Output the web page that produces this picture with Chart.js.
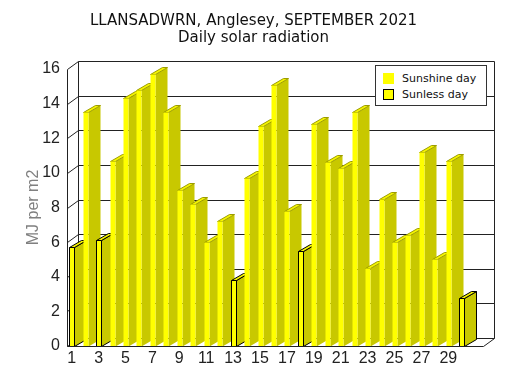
<!DOCTYPE html>
<html>
<head>
<meta charset="utf-8">
<script src="https://cdn.jsdelivr.net/npm/chart.js@4/dist/chart.umd.min.js"></script>
<style>
  body { margin: 0; background: #fff; }
  #wrap { position: relative; width: 507px; height: 378px; }
  #legend {
    position: absolute; left: 375px; top: 65px; width: 110px; height: 39px;
    border: 1px solid #333; background: #fff;
    font: 11px "DejaVu Sans", sans-serif; color: #111;
  }
  #legend div { position: absolute; left: 7px; height: 11px; line-height: 11px; white-space: nowrap; }
  #legend span {
    display: inline-block; width: 11px; height: 11px; vertical-align: top;
    margin-right: 8px; background: #ffff00; box-sizing: border-box;
  }
</style>
</head>
<body>
<div id="wrap">
  <canvas id="solar" width="507" height="378"></canvas>
  <div id="legend">
    <div style="top:7px"><span></span>Sunshine day</div>
    <div style="top:23px"><span style="border:1.5px solid #000"></span>Sunless day</div>
  </div>
</div>
<script>
const days = [1, 2, 3, 4, 5, 6, 7, 8, 9, 10, 11, 12, 13, 14, 15,
              16, 17, 18, 19, 20, 21, 22, 23, 24, 25, 26, 27, 28, 29, 30];
const radiation = [5.7, 13.5, 6.1, 10.7, 14.3, 14.8, 15.7, 13.5, 9.0, 8.2, 6.0, 7.2, 3.8, 9.7, 12.7,
                   15.1, 7.8, 5.5, 12.8, 10.6, 10.3, 13.5, 4.5, 8.5, 6.0, 6.4, 11.2, 5.0, 10.7, 2.8];
const sunlessDays = [1, 3, 13, 18, 30];
const xTickDays = [1, 3, 5, 7, 9, 11, 13, 15, 17, 19, 21, 23, 25, 27, 29];
const yTicks = [0, 2, 4, 6, 8, 10, 12, 14, 16];

const sunshine = radiation.map((v, i) => sunlessDays.includes(days[i]) ? null : v);
const sunless = radiation.map((v, i) => sunlessDays.includes(days[i]) ? v : null);

// fake 3d: depth of the walls, depth of the bars, width of a bar front
const DX = 11, DY = 8;
const BX = 12, BY = 7;
const FACE = 5;

function poly(ctx, pts, fill, stroke) {
  ctx.beginPath();
  ctx.moveTo(pts[0][0], pts[0][1]);
  for (let k = 1; k < pts.length; k++) ctx.lineTo(pts[k][0], pts[k][1]);
  ctx.closePath();
  ctx.fillStyle = fill;
  ctx.fill();
  if (stroke) {
    ctx.strokeStyle = stroke;
    ctx.stroke();
  }
}

const box3d = {
  id: 'box3d',
  beforeDatasetsDraw(chart) {
    const { ctx, chartArea: a, scales: { y } } = chart;
    const top = Math.round(y.getPixelForValue(yTicks[yTicks.length - 1])) + 0.5;
    const bot = Math.round(y.getPixelForValue(0)) + 0.5;
    const l = Math.round(a.left) + 0.5, r = Math.round(a.right) + 0.5;
    ctx.save();
    ctx.strokeStyle = '#222';
    ctx.lineWidth = 1;
    ctx.beginPath();
    yTicks.forEach(v => {
      const py = Math.round(y.getPixelForValue(v)) + 0.5;
      ctx.moveTo(l, py);
      ctx.lineTo(l + DX, py - DY);
      ctx.lineTo(r + DX, py - DY);
    });
    ctx.moveTo(l, top); ctx.lineTo(l, bot);
    ctx.moveTo(l + DX, top - DY); ctx.lineTo(l + DX, bot - DY);
    ctx.moveTo(r + DX, top - DY); ctx.lineTo(r + DX, bot - DY);
    ctx.stroke();
    ctx.restore();
  },
  afterDatasetsDraw(chart) {
    const { ctx, chartArea: a, scales: { y } } = chart;
    ctx.save();
    ctx.lineWidth = 1;
    days.forEach((d, i) => {
      const ds = sunlessDays.includes(d) ? 1 : 0;
      const el = chart.getDatasetMeta(ds).data[i];
      if (!el) return;
      const x0 = Math.round(el.x - FACE / 2) + 0.5, x1 = x0 + FACE;
      const t = Math.round(el.y) + 0.5, b = Math.round(el.base) + 0.5;
      const edge = ds ? '#000' : null;
      poly(ctx, [[x1, t], [x1 + BX, t - BY], [x1 + BX, b - BY], [x1, b]], '#c8c800', edge);
      poly(ctx, [[x0, t], [x1, t], [x1 + BX, t - BY], [x0 + BX, t - BY]], '#f4f400', ds ? '#000' : '#9c9c00');
      poly(ctx, [[x0, t], [x1, t], [x1, b], [x0, b]], '#ffff00', edge);
    });
    // floor front edge and right side
    const bot = Math.round(y.getPixelForValue(0)) + 0.5;
    const l = Math.round(a.left) + 0.5, r = Math.round(a.right) + 0.5;
    ctx.strokeStyle = '#222';
    ctx.beginPath();
    ctx.moveTo(l, bot); ctx.lineTo(r, bot); ctx.lineTo(r + DX, bot - DY);
    ctx.stroke();
    ctx.restore();
  }
};

new Chart(document.getElementById('solar'), {
  type: 'bar',
  data: {
    datasets: [{
      label: 'Sunshine day',
      data: days.map((d, i) => ({ x: d, y: sunshine[i] })),
      backgroundColor: 'rgba(0,0,0,0)',
      borderWidth: 0,
      grouped: false
    }, {
      label: 'Sunless day',
      data: days.map((d, i) => ({ x: d, y: sunless[i] })),
      backgroundColor: 'rgba(0,0,0,0)',
      borderWidth: 0,
      grouped: false
    }]
  },
  options: {
    responsive: false,
    animation: false,
    layout: { padding: { left: 24, right: 24, top: 0, bottom: 0 } },
    plugins: {
      legend: { display: false },
      title: {
        display: true,
        text: ['LLANSADWRN, Anglesey, SEPTEMBER 2021', 'Daily solar radiation'],
        color: '#111',
        font: { family: 'DejaVu Sans', size: 15, weight: 'normal', lineHeight: 1.15 },
        padding: { top: 12, bottom: 22.5 }
      }
    },
    scales: {
      x: {
        type: 'linear',
        min: 0.65,
        max: 31.58,
        offset: false,
        grid: { display: false, drawTicks: false },
        border: { display: false },
        afterBuildTicks: s => { s.ticks = xTickDays.map(v => ({ value: v })); },
        afterFit: s => { s.height = 32; },
        ticks: {
          autoSkip: false,
          maxRotation: 0,
          padding: 3,
          color: '#222',
          font: { family: 'Liberation Sans', size: 16 }
        }
      },
      y: {
        min: 0,
        max: 16,
        grid: { display: false, drawTicks: false },
        border: { display: false },
        afterFit: s => { s.width = 43; },
        ticks: {
          stepSize: 2,
          padding: 7,
          color: '#222',
          font: { family: 'Liberation Sans', size: 16 }
        },
        title: {
          display: true,
          text: 'MJ per m2',
          color: '#808080',
          font: { family: 'Liberation Sans', size: 16 },
          padding: { top: 0, bottom: 0 }
        }
      }
    }
  },
  plugins: [box3d]
});
</script>
</body>
</html>
